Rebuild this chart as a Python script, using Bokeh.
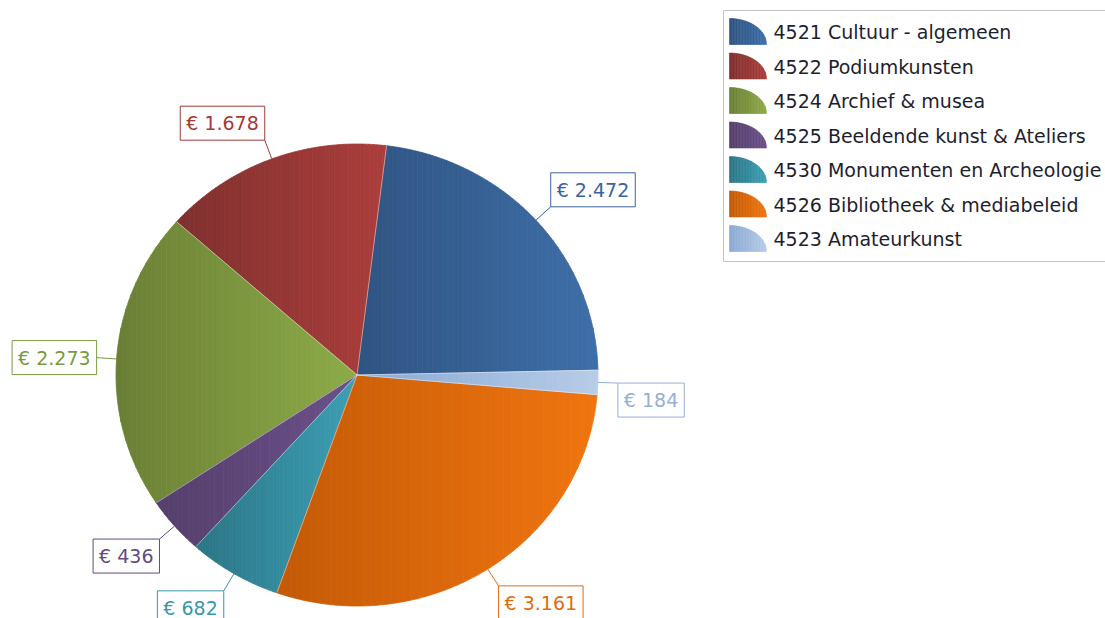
import numpy as np
from bokeh.plotting import figure
from bokeh.models import Range1d, ColumnDataSource
from bokeh.core.properties import value
from bokeh.embed import file_html
from bokeh.resources import INLINE

# ---------------- data ----------------
categories = ["4521 Cultuur - algemeen", "4522 Podiumkunsten", "4524 Archief & musea",
              "4525 Beeldende kunst & Ateliers", "4530 Monumenten en Archeologie",
              "4526 Bibliotheek & mediabeleid", "4523 Amateurkunst"]
amounts = [2472, 1678, 2273, 436, 682, 3161, 184]
labels = ["€ 2.472", "€ 1.678", "€ 2.273", "€ 436", "€ 682", "€ 3.161", "€ 184"]

# gradient colours (dark left -> light right) and label colour per category
dark_colors = ["#2f5482", "#7f302e", "#6a7f35", "#553f6a", "#2b7585", "#c45a06", "#8aa9d4"]
light_colors = ["#3e6ea8", "#ab3e3c", "#8dab47", "#6b508b", "#3c9fb5", "#f07510", "#b6cce7"]
label_colors = ["#3b63a0", "#a23a38", "#7a9a3f", "#634a82", "#3a96ab", "#e06c10", "#94b0d6"]

# ---------------- layout / style ----------------
W, H = 1105, 618
CX, CY = 356.5, 374.5
RX, RY = 241.0, 231.0
START_DEG = 1.2
LEADER = 20.0
FONT = value("DejaVu Sans")
FS = "19px"

p = figure(width=W, height=H, output_backend="svg", toolbar_location=None,
           x_range=Range1d(0, W), y_range=Range1d(H, 0),
           min_border=0, min_border_left=0, min_border_right=0,
           min_border_top=0, min_border_bottom=0)
p.axis.visible = False
p.grid.visible = False
p.outline_line_color = None
p.background_fill_color = "white"
p.border_fill_color = "white"


def hex2rgb(h):
    h = h.lstrip("#")
    return np.array([int(h[i:i + 2], 16) for i in (0, 2, 4)], dtype=float)


def rgb2hex(c):
    c = np.clip(np.round(c), 0, 255).astype(int)
    return "#%02x%02x%02x" % tuple(c)


def clip_half(pts, x0, keep_greater):
    out = []
    n = len(pts)
    for i in range(n):
        cur = pts[i]
        prev = pts[i - 1]
        cin = cur[0] >= x0 if keep_greater else cur[0] <= x0
        pin = prev[0] >= x0 if keep_greater else prev[0] <= x0
        if cin:
            if not pin:
                t = (x0 - prev[0]) / (cur[0] - prev[0])
                out.append((x0, prev[1] + t * (cur[1] - prev[1])))
            out.append(cur)
        elif pin:
            t = (x0 - prev[0]) / (cur[0] - prev[0])
            out.append((x0, prev[1] + t * (cur[1] - prev[1])))
    return out


def gradient_strips(pts, c0, c1, nstrips=48):
    xs_all = [q[0] for q in pts]
    xmin, xmax = min(xs_all), max(xs_all)
    a, b = hex2rgb(c0), hex2rgb(c1)
    res_x, res_y, res_c = [], [], []
    edges = np.linspace(xmin, xmax, nstrips + 1)
    for k in range(nstrips):
        poly = clip_half(pts, edges[k], True)
        if len(poly) < 3:
            continue
        poly = clip_half(poly, edges[k + 1], False)
        if len(poly) < 3:
            continue
        t = (k + 0.5) / nstrips
        res_x.append([q[0] for q in poly])
        res_y.append([q[1] for q in poly])
        res_c.append(rgb2hex(a + (b - a) * t))
    return res_x, res_y, res_c


def wedge_points(cx, cy, rx, ry, a0, a1):
    n = max(8, int(abs(a1 - a0) * 2))
    th = np.radians(np.linspace(a0, a1, n))
    pts = [(cx, cy)]
    pts += [(cx + rx * np.cos(t), cy - ry * np.sin(t)) for t in th]
    return pts


total = float(sum(amounts))
angles = [v / total * 360.0 for v in amounts]
starts = START_DEG + np.concatenate([[0], np.cumsum(angles)[:-1]])
ends = starts + np.array(angles)

sx, sy, sc = [], [], []
for i in range(len(amounts)):
    pts = wedge_points(CX, CY, RX, RY, starts[i], ends[i])
    gx, gy, gc = gradient_strips(pts, dark_colors[i], light_colors[i])
    sx += gx; sy += gy; sc += gc

src = ColumnDataSource(dict(xs=sx, ys=sy, c=sc))
p.patches("xs", "ys", source=src, fill_color="c", line_color="c", line_width=0.8)

# subtle separators
bx = [CX + RX * np.cos(np.radians(a)) for a in starts]
by = [CY - RY * np.sin(np.radians(a)) for a in starts]
p.segment(x0=[CX] * len(bx), y0=[CY] * len(by), x1=bx, y1=by,
          line_color="white", line_alpha=0.45, line_width=1)

# labels with leader lines
lx0, ly0, lx1, ly1, anchors = [], [], [], [], []
for i in range(len(amounts)):
    m = np.radians((starts[i] + ends[i]) / 2)
    ex, ey = CX + RX * np.cos(m), CY - RY * np.sin(m)
    ox, oy = ex + LEADER * np.cos(m), ey - LEADER * np.sin(m)
    lx0.append(ex); ly0.append(ey); lx1.append(ox); ly1.append(oy)
    hz = "left" if np.cos(m) >= 0 else "right"
    s = np.sin(m)
    vt = "bottom" if s > 0.2 else ("top" if s < -0.02 else "center")
    anchors.append(vt + "_" + hz)

p.segment(x0=lx0, y0=ly0, x1=lx1, y1=ly1, line_color=label_colors, line_width=1)

lsrc = ColumnDataSource(dict(x=lx1, y=ly1, t=labels, c=label_colors, a=anchors))
p.text(x="x", y="y", text="t", source=lsrc, anchor="a", text_color="c",
       text_font=FONT, text_font_size=FS, padding=6,
       background_fill_color="white", border_line_color="c", border_line_width=1)

# ---------------- legend ----------------
LEG_X, LEG_Y0, LEG_Y1 = 723, 10, 261
p.quad(left=[LEG_X], right=[1130], top=[LEG_Y0], bottom=[LEG_Y1],
       fill_color="white", line_color="#c4c4c4", line_width=1)
ROW = 34.5
ix, iy, ic = [], [], []
tx, ty = [], []
for i in range(len(categories)):
    base_y = 44 + i * ROW
    pts = wedge_points(729, base_y, 37, 26, 0, 90)
    gx, gy, gc = gradient_strips(pts, dark_colors[i], light_colors[i], nstrips=24)
    ix += gx; iy += gy; ic += gc
    tx.append(773); ty.append(base_y - 12.5)
isrc = ColumnDataSource(dict(xs=ix, ys=iy, c=ic))
p.patches("xs", "ys", source=isrc, fill_color="c", line_color="c", line_width=0.6)
p.text(x=tx, y=ty, text=categories, text_font=FONT, text_font_size=FS,
       text_color="#1e1e2e", text_baseline="middle", text_align="left")

open("out.html", "w").write(file_html(p, INLINE))
